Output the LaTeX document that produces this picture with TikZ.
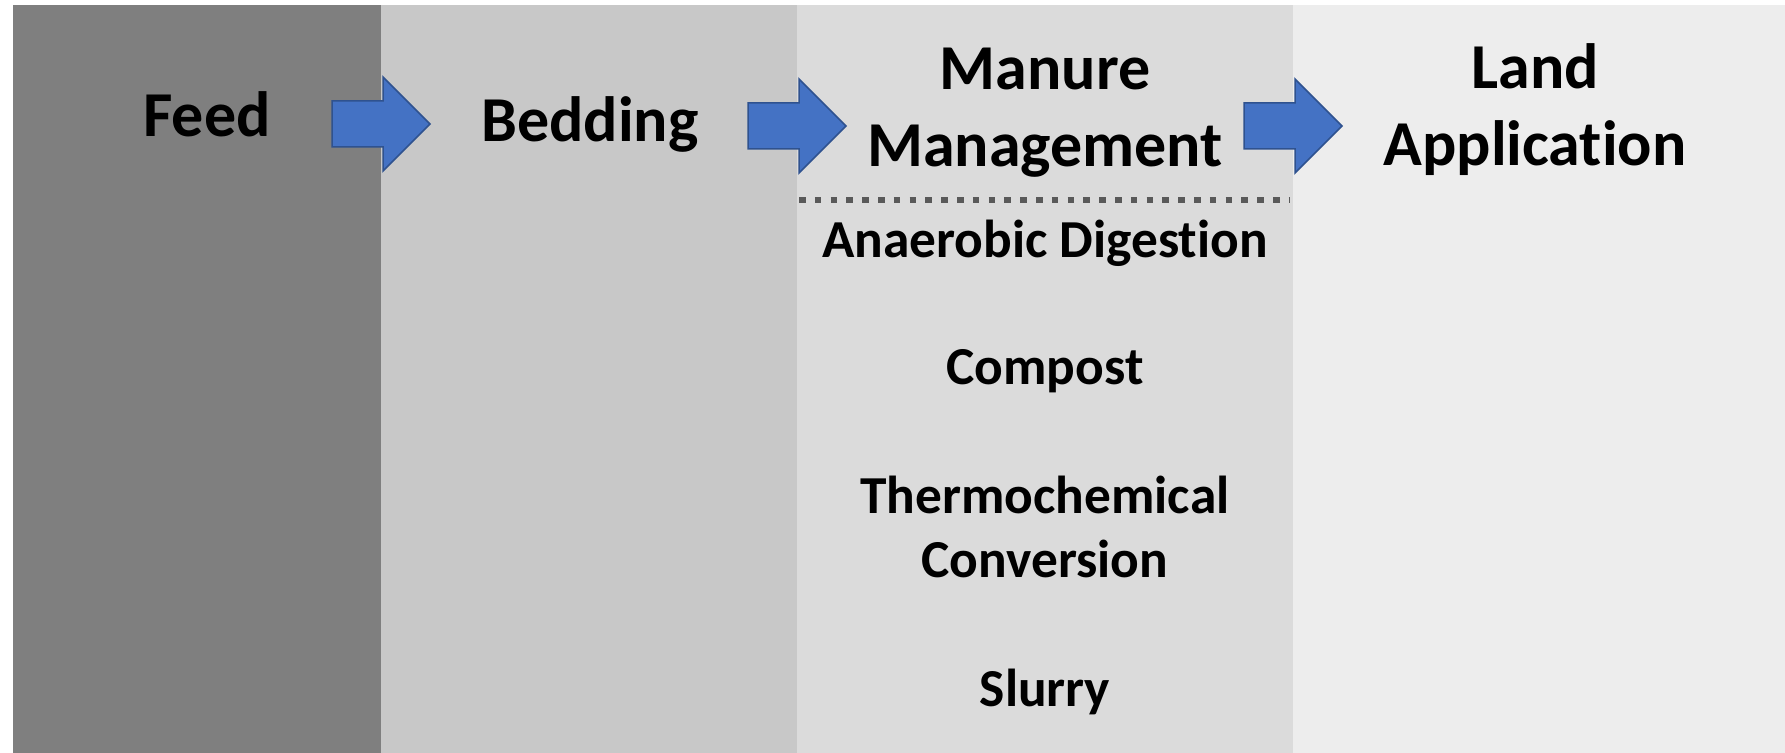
\documentclass[tikz,border=0pt]{standalone}
\usepackage{fontspec}
\setmainfont{Carlito}[Ligatures=NoCommon]
\definecolor{pone}{HTML}{7F7F7F}
\definecolor{ptwo}{HTML}{C8C8C8}
\definecolor{pthree}{HTML}{DBDBDB}
\definecolor{pfour}{HTML}{EDEDED}
\definecolor{arrowfill}{HTML}{4472C4}
\definecolor{arrowline}{HTML}{2F528F}
\definecolor{dotline}{HTML}{595959}
\tikzset{
  heading/.style={font=\bfseries\fontsize{32}{38.5}\selectfont, align=center, inner sep=0pt, anchor=base},
  subitem/.style={font=\bfseries\fontsize{26.7}{32}\selectfont, align=center, inner sep=0pt, anchor=base},
  blockarrow/.pic={\filldraw[fill=arrowfill, draw=arrowline, line width=0.75pt, line join=miter]
     (0,-23) -- (51,-23) -- (51,-47) -- (98,0) -- (51,47) -- (51,23) -- (0,23) -- cycle;}
}
\begin{document}
\begin{tikzpicture}[x=0.5pt, y=-0.5pt]
\useasboundingbox (0,0) rectangle (1785,753);
\fill[white] (0,0) rectangle (1785,753);
% panels
\fill[pone]   (13,5) rectangle (381,753);
\fill[ptwo]   (381,5) rectangle (797,753);
\fill[pthree] (797,5) rectangle (1293,753);
\fill[pfour]  (1293,5) rectangle (1785,753);
% headings (base anchor = baseline of last line)
\node[heading] (feed) at (207,137) {Feed};
\node[heading] (bedding) at (590,142) {Bedding};
\node[heading] (manure) at (1045,167) {Manure\\Management};
\node[heading] (land) at (1535,166) {Land\\Application};
% arrows
\pic at (332,124) {blockarrow};
\pic at (748,126) {blockarrow};
\pic at (1244,126) {blockarrow};
% dotted separator
\coordinate (sepL) at (799,200);
\coordinate (sepR) at (1290,200);
\draw[dotline, line width=3pt, dash pattern=on 3.3pt off 4.6pt] (sepL) -- (sepR);
% sub items
\node[subitem] (ad) at (1045,258) {Anaerobic Digestion};
\node[subitem] (compost) at (1045,385) {Compost};
\node[subitem] (thermo) at (1045,578) {Thermochemical\\Conversion};
\node[subitem] (slurry) at (1045,707) {Slurry};
\end{tikzpicture}
\end{document}
